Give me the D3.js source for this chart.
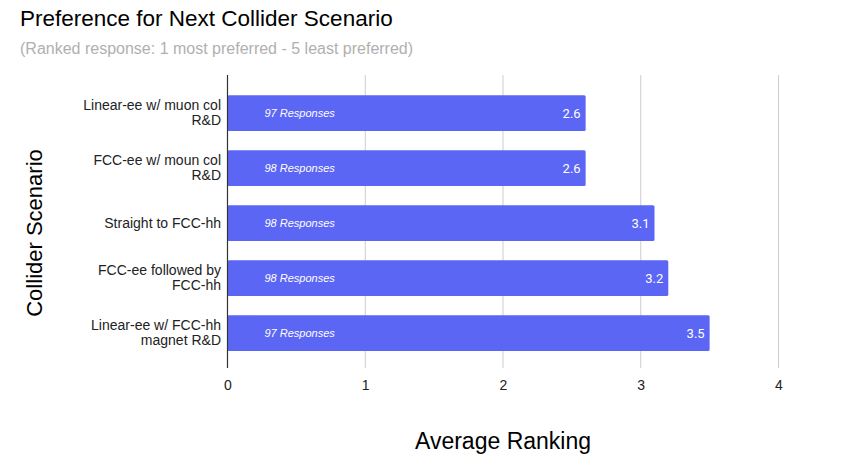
<!DOCTYPE html>
<html>
<head>
<meta charset="utf-8">
<script src="https://cdn.jsdelivr.net/npm/d3@7"></script>
<style>
  body { margin: 0; background: #fff; }
  svg { display: block; font-family: "Liberation Sans", Arial, sans-serif; }
</style>
</head>
<body>
<svg id="chart" width="844" height="465"></svg>
<script>
// chart data
var scenarios = [
    ["Linear-ee w/ muon col", "R&D"],
    ["FCC-ee w/ moun col", "R&D"],
    ["Straight to FCC-hh"],
    ["FCC-ee followed by", "FCC-hh"],
    ["Linear-ee w/ FCC-hh", "magnet R&D"]
];
var avgRanking = [2.6, 2.6, 3.1, 3.2, 3.5];
var responses = [97, 98, 98, 98, 97];
var xTicks = [0, 1, 2, 3, 4];

var svg = d3.select("#chart");
var margin = { top: 75, left: 227.5, right: 65.5, bottom: 97 };
var width = 844, height = 465;

var x = d3.scaleLinear().domain([0, 4]).range([margin.left, width - margin.right]);
var y = d3.scaleBand()
    .domain(d3.range(scenarios.length))
    .range([85.5, 360.5])
    .paddingInner(0.35)
    .paddingOuter(0.175);

// titles
svg.append("text")
    .attr("x", 20).attr("y", 26)
    .style("font-size", "22.5px").style("fill", "#000")
    .text("Preference for Next Collider Scenario");

svg.append("text")
    .attr("x", 20).attr("y", 54)
    .style("font-size", "16px").style("fill", "#b0b0b0")
    .text("(Ranked response: 1 most preferred - 5 least preferred)");

// gridlines
var gridBottom = 368;
svg.append("g").selectAll("line")
    .data(xTicks.filter(function (d) { return d > 0; }))
    .enter().append("line")
    .attr("x1", function (d) { return x(d); })
    .attr("x2", function (d) { return x(d); })
    .attr("y1", margin.top).attr("y2", gridBottom)
    .style("stroke", "#cccccc").style("stroke-width", 1);

// x axis labels
var xAxis = d3.axisBottom(x).tickValues(xTicks).tickSize(0).tickPadding(0).tickFormat(d3.format("d"));
var gx = svg.append("g").attr("transform", "translate(0," + 380 + ")").call(xAxis);
gx.select(".domain").remove();
gx.selectAll("text")
    .style("font-size", "14px").style("fill", "#222")
    .style("font-family", "Liberation Sans, Arial, sans-serif");

// bars
var rows = svg.append("g").selectAll("g")
    .data(avgRanking)
    .enter().append("g");

rows.append("rect")
    .attr("x", x(0))
    .attr("y", function (d, i) { return y(i); })
    .attr("width", function (d) { return x(d) - x(0); })
    .attr("height", y.bandwidth())
    .attr("rx", 1.5)
    .style("fill", "#5b66f5");

rows.append("text")
    .attr("x", x(0) + 37)
    .attr("y", function (d, i) { return y(i) + y.bandwidth() / 2; })
    .attr("dy", "0.35em")
    .style("font-size", "11px").style("font-style", "italic").style("fill", "#fff")
    .text(function (d, i) { return responses[i] + " Responses"; });

rows.append("text")
    .attr("x", function (d) { return x(d) - 5; })
    .attr("y", function (d, i) { return y(i) + y.bandwidth() / 2; })
    .attr("dy", "0.35em")
    .attr("text-anchor", "end")
    .style("font-family", "Roboto, sans-serif")
    .style("font-size", "13px").style("fill", "#fff")
    .text(function (d) { return d3.format(".1f")(d); });

// axis line at zero
svg.append("line")
    .attr("x1", x(0)).attr("x2", x(0))
    .attr("y1", margin.top).attr("y2", gridBottom)
    .style("stroke", "#333").style("stroke-width", 1.2);

// category labels
var cat = svg.append("g").selectAll("text")
    .data(scenarios)
    .enter().append("text")
    .attr("text-anchor", "end")
    .attr("y", function (d, i) { return y(i) + y.bandwidth() / 2 - (d.length - 1) * 7.5; })
    .style("font-size", "14px").style("fill", "#222");

cat.selectAll("tspan")
    .data(function (d) { return d; })
    .enter().append("tspan")
    .attr("x", 221)
    .attr("dy", function (d, j) { return j === 0 ? "0.35em" : "15"; })
    .text(function (d) { return d; });

// axis titles
svg.append("text")
    .attr("x", 503).attr("y", 449)
    .attr("text-anchor", "middle")
    .style("font-size", "23px").style("fill", "#000")
    .text("Average Ranking");

svg.append("text")
    .attr("transform", "translate(42,233) rotate(-90)")
    .attr("text-anchor", "middle")
    .style("font-size", "22px").style("fill", "#000")
    .text("Collider Scenario");
</script>
</body>
</html>
